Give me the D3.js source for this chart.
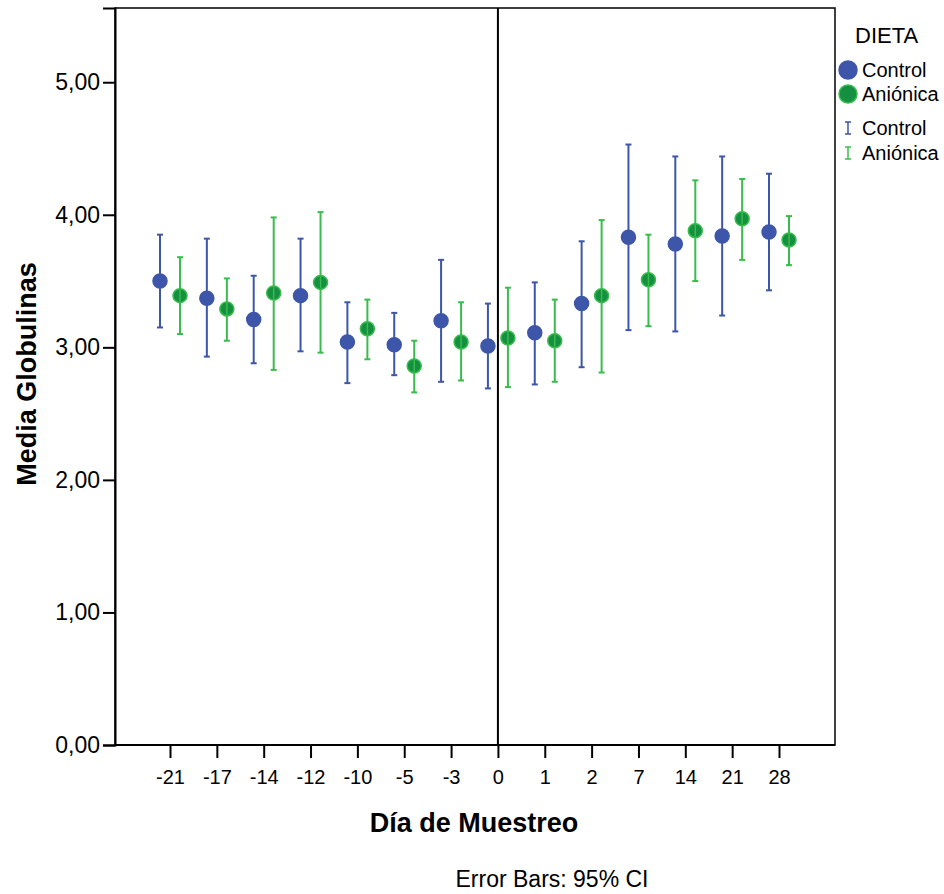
<!DOCTYPE html>
<html>
<head>
<meta charset="utf-8">
<script src="https://cdn.jsdelivr.net/npm/d3@7"></script>
<style>
  html, body { margin: 0; padding: 0; background: #fff; }
  svg { display: block; font-family: "Liberation Sans", Arial, sans-serif; }
</style>
</head>
<body>
<svg id="chart" width="944" height="894"></svg>
<script>
// Sampling days (categorical)
const days = ["-21", "-17", "-14", "-12", "-10", "-5", "-3", "0", "1", "2", "7", "14", "21", "28"];

// Control diet: mean and 95% CI
const controlMean  = [3.50, 3.37, 3.21, 3.39, 3.04, 3.02, 3.20, 3.01, 3.11, 3.33, 3.83, 3.78, 3.84, 3.87];
const controlLow   = [3.15, 2.93, 2.88, 2.97, 2.73, 2.79, 2.74, 2.69, 2.72, 2.85, 3.13, 3.12, 3.24, 3.43];
const controlHigh  = [3.85, 3.82, 3.54, 3.82, 3.34, 3.26, 3.66, 3.33, 3.49, 3.80, 4.53, 4.44, 4.44, 4.31];

// Anionic diet: mean and 95% CI
const anionMean = [3.39, 3.29, 3.41, 3.49, 3.14, 2.86, 3.04, 3.07, 3.05, 3.39, 3.51, 3.88, 3.97, 3.81];
const anionLow  = [3.10, 3.05, 2.83, 2.96, 2.91, 2.66, 2.75, 2.70, 2.74, 2.81, 3.16, 3.50, 3.66, 3.62];
const anionHigh = [3.68, 3.52, 3.98, 4.02, 3.36, 3.05, 3.34, 3.45, 3.36, 3.96, 3.85, 4.26, 4.27, 3.99];

const yTicks = [0, 1, 2, 3, 4, 5];

const series = [
  { name: "Control",  mean: controlMean, low: controlLow, high: controlHigh,
    fill: "#3D56A9", stroke: "#3D56A9", bar: "#3D56A9", offset: -10 },
  { name: "Aniónica", mean: anionMean, low: anionLow, high: anionHigh,
    fill: "#149040", stroke: "#38BC4C", bar: "#38BC4C", offset: 10 }
];

const svg = d3.select("#chart");
const plot = { left: 115, right: 835, top: 8, bottom: 745 };

const x = d3.scalePoint().domain(days).range([170, 779]);
const y = d3.scaleLinear().domain([0, 5.56]).range([plot.bottom, plot.top]);

// Plot frame
svg.append("rect")
  .attr("x", plot.left).attr("y", plot.top)
  .attr("width", plot.right - plot.left).attr("height", plot.bottom - plot.top)
  .attr("fill", "none").attr("stroke", "#000").attr("stroke-width", 1.5);

// Y axis
const yAxis = svg.append("g")
  .attr("transform", `translate(${plot.left},0)`)
  .call(d3.axisLeft(y).tickValues(yTicks).tickSize(12).tickPadding(3)
    .tickFormat(d => d3.format(".2f")(d).replace(".", ",")));
yAxis.select(".domain").attr("stroke-width", 2);
yAxis.selectAll(".tick line").attr("stroke-width", 2);
yAxis.selectAll(".tick text").attr("font-size", 23).attr("fill", "#000")
  .attr("font-family", "Liberation Sans, Arial, sans-serif");

// X axis
const xAxis = svg.append("g")
  .attr("transform", `translate(0,${plot.bottom})`)
  .call(d3.axisBottom(x).tickSize(13).tickPadding(12));
xAxis.select(".domain").attr("d", `M${plot.left},0H${plot.right}`).attr("stroke-width", 2);
xAxis.selectAll(".tick line").attr("stroke-width", 2);
xAxis.selectAll(".tick text").attr("font-size", 20).attr("fill", "#000")
  .attr("font-family", "Liberation Sans, Arial, sans-serif");

// Reference line at day 0
svg.append("line")
  .attr("x1", x("0")).attr("x2", x("0"))
  .attr("y1", plot.top).attr("y2", plot.bottom)
  .attr("stroke", "#000").attr("stroke-width", 2);

// Error bars and means
const capHalf = 3;
series.forEach((s, si) => {
  const g = svg.append("g").attr("class", "series-" + si);
  const rows = days.map((d, i) => ({ d, m: s.mean[i], lo: s.low[i], hi: s.high[i] }));
  const cx = r => x(r.d) + s.offset;

  const bars = g.selectAll("g.bar").data(rows).join("g").attr("class", "bar");
  bars.append("line")
    .attr("x1", cx).attr("x2", cx)
    .attr("y1", r => y(r.lo)).attr("y2", r => y(r.hi))
    .attr("stroke", s.bar).attr("stroke-width", 2);
  bars.append("line")
    .attr("x1", r => cx(r) - capHalf).attr("x2", r => cx(r) + capHalf)
    .attr("y1", r => y(r.hi)).attr("y2", r => y(r.hi))
    .attr("stroke", s.bar).attr("stroke-width", 2);
  bars.append("line")
    .attr("x1", r => cx(r) - capHalf).attr("x2", r => cx(r) + capHalf)
    .attr("y1", r => y(r.lo)).attr("y2", r => y(r.lo))
    .attr("stroke", s.bar).attr("stroke-width", 2);

  g.selectAll("circle").data(rows).join("circle")
    .attr("cx", cx).attr("cy", r => y(r.m))
    .attr("r", 7)
    .attr("fill", s.fill).attr("stroke", s.stroke).attr("stroke-width", 1.5);

  // the anionic bar line shows through its marker
  if (si === 1) {
    g.selectAll("line.through").data(rows).join("line").attr("class", "through")
      .attr("x1", cx).attr("x2", cx)
      .attr("y1", r => y(r.m) - 6).attr("y2", r => y(r.m) + 6)
      .attr("stroke", s.bar).attr("stroke-width", 1.5);
  }
});

// Axis titles
svg.append("text")
  .attr("transform", "translate(36,374) rotate(-90)")
  .attr("text-anchor", "middle")
  .attr("font-size", 27).attr("font-weight", "bold")
  .text("Media Globulinas");

svg.append("text")
  .attr("x", 474).attr("y", 832)
  .attr("text-anchor", "middle")
  .attr("font-size", 27).attr("font-weight", "bold")
  .text("Día de Muestreo");

svg.append("text")
  .attr("x", 552).attr("y", 887)
  .attr("text-anchor", "middle")
  .attr("font-size", 23)
  .text("Error Bars: 95% CI");

// Legend
const lg = svg.append("g");
lg.append("text").attr("x", 855).attr("y", 43).attr("font-size", 22).text("DIETA");
series.forEach((s, i) => {
  const cy = 70 + i * 24;
  lg.append("circle").attr("cx", 848).attr("cy", cy).attr("r", 9)
    .attr("fill", s.fill).attr("stroke", s.stroke).attr("stroke-width", 1.5);
  lg.append("text").attr("x", 862).attr("y", cy + 7).attr("font-size", 20).text(s.name);

  const by = 128 + i * 25;
  lg.append("line").attr("x1", 848).attr("x2", 848).attr("y1", by - 6).attr("y2", by + 6)
    .attr("stroke", s.bar).attr("stroke-width", 1.5);
  lg.append("line").attr("x1", 845).attr("x2", 851).attr("y1", by - 6).attr("y2", by - 6)
    .attr("stroke", s.bar).attr("stroke-width", 1.5);
  lg.append("line").attr("x1", 845).attr("x2", 851).attr("y1", by + 6).attr("y2", by + 6)
    .attr("stroke", s.bar).attr("stroke-width", 1.5);
  lg.append("text").attr("x", 862).attr("y", by + 7).attr("font-size", 20).text(s.name);
});
</script>
</body>
</html>
